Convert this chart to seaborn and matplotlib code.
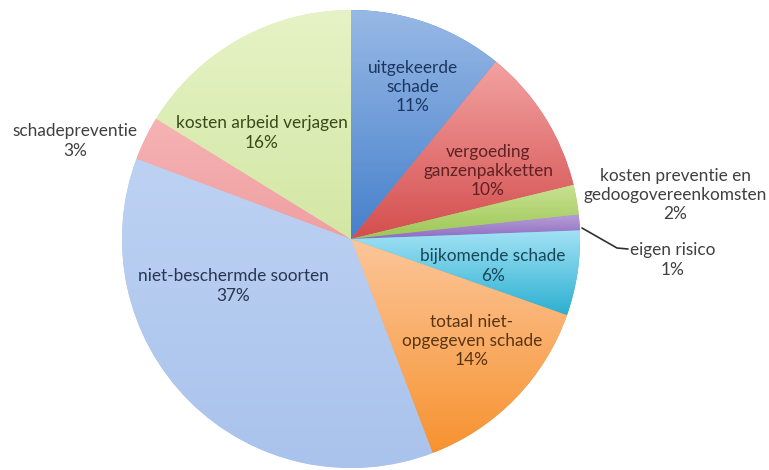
import matplotlib.pyplot as plt
import numpy as np
import seaborn as sns
from matplotlib.colors import LinearSegmentedColormap

# slices, clockwise from 12 o'clock
labels = [
    "uitgekeerde\nschade",
    "vergoeding\nganzenpakketten",
    "kosten preventie en\ngedoogovereenkomsten",
    "eigen risico",
    "bijkomende schade",
    "totaal niet-\nopgegeven schade",
    "niet-beschermde soorten",
    "schadepreventie",
    "kosten arbeid verjagen",
]
shares = [10.9, 10.3, 2.1, 1.1, 6.0, 13.8, 36.5, 3.1, 16.2]
pct_labels = ["11%", "10%", "2%", "1%", "6%", "14%", "37%", "3%", "16%"]

# gradient (top, bottom) per slice
top_colors = ["#98b9e6", "#f3a2a2", "#c8e293", "#b8a0d8", "#a2e2f5",
              "#fcc69a", "#bdd2f3", "#f6b3b4", "#e6f3c6"]
bottom_colors = ["#4680cb", "#d44e4e", "#9cc654", "#8d6cc0", "#2cb0d1",
                 "#f7922f", "#aac3ec", "#ef9fa1", "#d3e7a4"]
text_colors = ["#1b3660", "#5e2222", "#404040", "#404040", "#1a4656",
               "#5a3512", "#2a3552", "#404040", "#3b4a1a"]

# label anchor points in image pixels (x, y from top)
label_pos = [(413, 87), (488, 171), (675, 195), (673, 260), (493, 266),
             (472, 341), (233, 286), (75, 141), (262, 133)]

W, H = 769, 470
cx, cy, r = 351, 239, 229

sns.set_theme(style="white")
plt.rcParams["font.family"] = ["Lato", "DejaVu Sans"]

fig = plt.figure(figsize=(W / 100, H / 100), dpi=100)
ax = fig.add_axes([0, 0, 1, 1])

wedges, _ = ax.pie(shares, startangle=90, counterclock=False,
                   center=(cx, H - cy), radius=r, colors=bottom_colors,
                   wedgeprops=dict(linewidth=0))

grad = np.linspace(0, 1, 256).reshape(-1, 1)
for w, c0, c1 in zip(wedges, top_colors, bottom_colors):
    ext = w.get_path().get_extents()
    cmap = LinearSegmentedColormap.from_list("g", [c1, c0])
    im = ax.imshow(grad, cmap=cmap, origin="lower", aspect="auto",
                   extent=(ext.x0, ext.x1, ext.y0, ext.y1), zorder=2)
    im.set_clip_path(w)

for lab, pct, (x, y), tc in zip(labels, pct_labels, label_pos, text_colors):
    ax.text(x, H - y, f"{lab}\n{pct}", ha="center", va="center",
            fontsize=12.4, color=tc, linespacing=1.24, zorder=5)

# leader line for the small slice
ax.plot([582, 617, 628], [H - 228, H - 248, H - 249], color="#303030",
        linewidth=1.2, zorder=5)

ax.set_xlim(0, W)
ax.set_ylim(0, H)
ax.set_aspect("equal")
ax.axis("off")
fig.savefig("out.png", dpi=100)
